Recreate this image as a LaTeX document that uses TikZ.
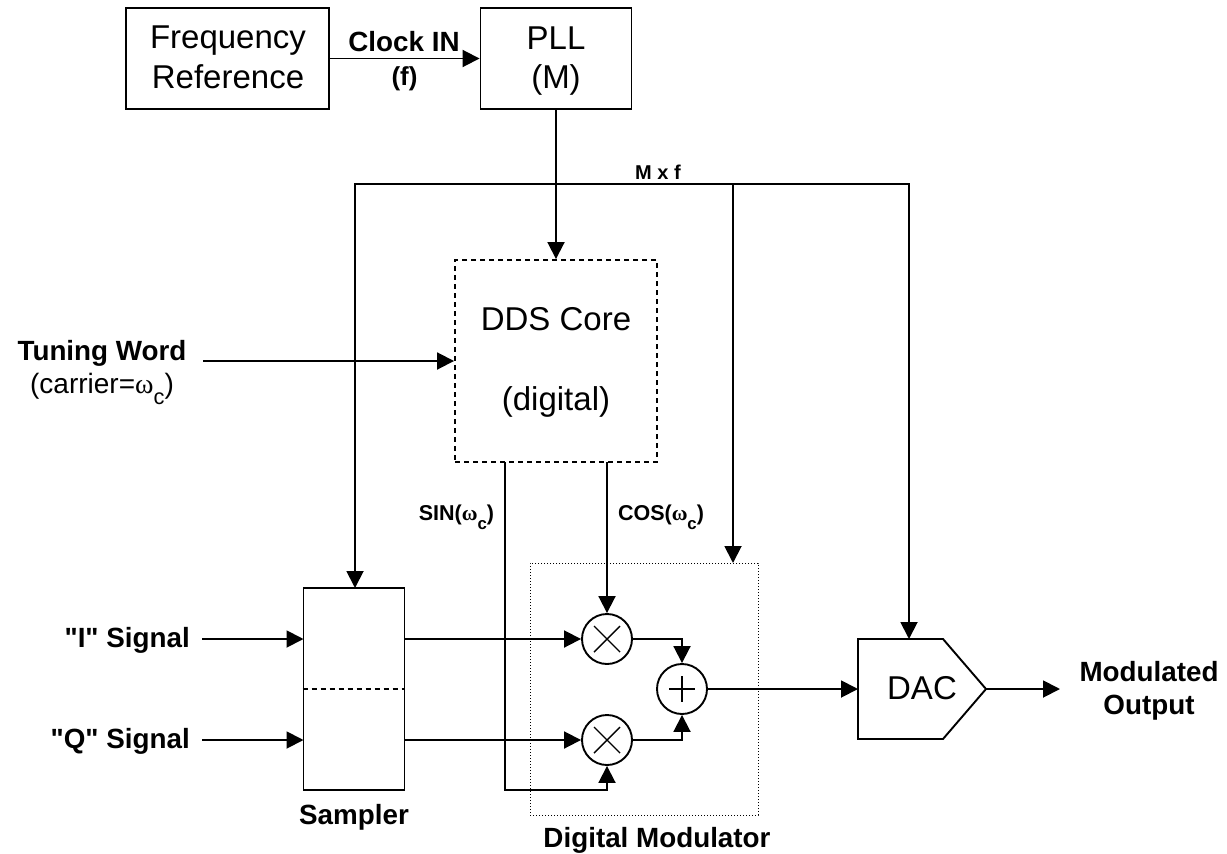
\documentclass[tikz,border=0pt]{standalone}
\usepackage{fontspec}
\setmainfont{Liberation Sans}[Ligatures=TeXOff]
\newfontfamily\symf{Liberation Serif}
\usetikzlibrary{arrows.meta,calc}
\newcommand{\om}{{\symf ω}}
\newcommand{\subc}{\raisebox{-0.42em}{\scalebox{0.78}{c}}}
\tikzset{
  wire/.style={line width=1.9pt,-{Triangle[length=17pt,width=17pt]}},
  plainwire/.style={line width=1.9pt},
  blockbox/.style={draw,line width=1.9pt,inner sep=0pt},
  mixer/.style={draw,circle,line width=1.9pt,minimum size=50pt,inner sep=0pt},
  glyph/.style={line width=1.4pt},
  plaintext/.style={font=\fontsize{33}{40}\selectfont,inner sep=0pt,anchor=base},
  biglabel/.style={font=\fontsize{27.8}{33}\selectfont\bfseries,inner sep=0pt,anchor=base},
  smalllabel/.style={font=\fontsize{21.5}{26}\selectfont\bfseries,inner sep=0pt,anchor=base},
  shortdash/.style={dash pattern=on 5pt off 4pt},
}
\begin{document}
\begin{tikzpicture}[x=1pt,y=-1pt]
\useasboundingbox (0,0) rectangle (1227,854);

% blocks
\node[blockbox,minimum width=203pt,minimum height=101pt] (freq) at (227.5,58.5) {};
\node[plaintext] (freqa) at (228,48.5) {Frequency};
\node[plaintext] (freqb) at (228,88.5) {Reference};
\node[blockbox,minimum width=151pt,minimum height=101pt] (pll) at (556,58.5) {};
\node[plaintext] (pllt) at (556,49) {PLL};
\node[plaintext] (pllm) at (556,88.5) {(M)};
\node[blockbox,shortdash,minimum width=202pt,minimum height=202pt] (dds) at (556,361) {};
\node[plaintext] (ddsa) at (556,330) {DDS Core};
\node[plaintext] (ddsb) at (556,410) {(digital)};
\node[draw,dotted,line width=1pt,minimum width=228pt,minimum height=252pt,inner sep=0pt] (mod) at (644,689) {};
\node[blockbox,minimum width=101pt,minimum height=202pt] (samp) at (354,689) {};
\draw[shortdash,line width=1.3pt] (samp.west) -- (samp.east);

\node[mixer] (ma) at (607,639) {};
\node[mixer] (mb) at (607,740) {};
\node[mixer] (sum) at (682,689) {};
\draw[glyph] ($(ma)+(-13,-13)$) -- ($(ma)+(13,13)$) ($(ma)+(-13,13)$) -- ($(ma)+(13,-13)$);
\draw[glyph] ($(mb)+(-13,-13)$) -- ($(mb)+(13,13)$) ($(mb)+(-13,13)$) -- ($(mb)+(13,-13)$);
\draw[glyph] ($(sum)+(-13,0)$) -- ($(sum)+(13,0)$) ($(sum)+(0,-13)$) -- ($(sum)+(0,13)$);

\coordinate (dacw) at (858,689);
\coordinate (dactip) at (986,689);
\draw[line width=1.9pt] (858,639) -- (943,639) -- (dactip) -- (943,739) -- (858,739) -- cycle;
\node[plaintext] (dac) at (922,699) {DAC};

% connector ends
\coordinate (busl) at (355,184);
\coordinate (busm) at (733,184);
\coordinate (busr) at (909,184);
\coordinate (sampin) at (355,588);
\coordinate (modin) at (733,563);
\coordinate (dacin) at (909,639);
\coordinate (sinout) at (505,462);
\coordinate (cosout) at (607,462);
\coordinate (twend) at (203,361);
\coordinate (iend) at (202,639);
\coordinate (qend) at (202,740);
\coordinate (sampi) at (303.5,639);
\coordinate (sampq) at (303.5,740);
\coordinate (sampio) at (404.5,639);
\coordinate (sampqo) at (404.5,740);
\coordinate (sinturn) at (505,790);
\coordinate (outend) at (1060,689);

% connectors
\draw[wire] (freq.east) -- (pll.west);
\draw[wire] (pll.south) -- (dds.north);
\draw[plainwire,line cap=rect] (busl) -- (busr);
\draw[wire] (busl) -- (sampin);
\draw[wire] (busm) -- (modin);
\draw[wire] (busr) -- (dacin);
\draw[wire] (twend) -- (dds.west);
\draw[wire] (iend) -- (sampi);
\draw[wire] (qend) -- (sampq);
\draw[wire] (sampio) -- (ma.west);
\draw[wire] (sampqo) -- (mb.west);
\draw[wire] (cosout) -- (ma.north);
\draw[wire] (sinout) -- (sinturn) -| (mb.south);
\draw[wire] (ma.east) -| (sum.north);
\draw[wire] (mb.east) -| (sum.south);
\draw[wire] (sum.east) -- (dacw);
\draw[wire] (dactip) -- (outend);

% labels
\node[biglabel] (clk) at (404,51) {Clock IN};
\node[biglabel,font=\fontsize{26}{31}\selectfont\bfseries] (clkf) at (404.5,85) {(f)};
\node[smalllabel,font=\fontsize{20}{24}\selectfont\bfseries] (mxf) at (658,179) {M x f};
\node[biglabel] (tw) at (102,360) {Tuning Word};
\node[inner sep=0pt,anchor=base,font=\fontsize{28}{33}\selectfont] (car) at (102,393) {(carrier=\om\subc)};
\node[smalllabel] (sinl) at (456.5,520) {SIN(\om\subc)};
\node[smalllabel] (cosl) at (661,520) {COS(\om\subc)};
\node[biglabel,anchor=base east] (il) at (190,647) {"I" Signal};
\node[biglabel,anchor=base east] (ql) at (190,748) {"Q" Signal};
\node[biglabel] (sl2) at (354,824) {Sampler};
\node[biglabel] (dm) at (657,847) {Digital Modulator};
\node[biglabel] (moa) at (1149,681) {Modulated};
\node[biglabel] (mob) at (1149,714) {Output};
\end{tikzpicture}
\end{document}
